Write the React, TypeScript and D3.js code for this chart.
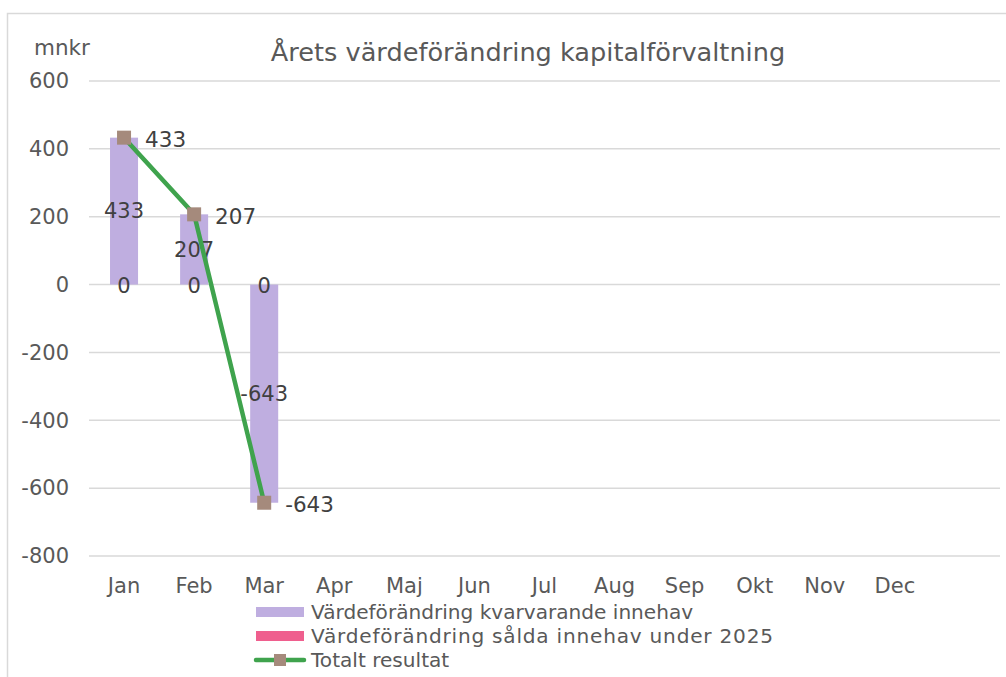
import React, { useEffect, useRef } from 'react';
import * as d3 from 'd3';

const months = ['Jan', 'Feb', 'Mar', 'Apr', 'Maj', 'Jun', 'Jul', 'Aug', 'Sep', 'Okt', 'Nov', 'Dec', ''];
const kvarvarande = [433, 207, -643, null, null, null, null, null, null, null, null, null, null];
const salda = [0, 0, 0, null, null, null, null, null, null, null, null, null, null];
const totalt = [433, 207, -643, null, null, null, null, null, null, null, null, null, null];
const yTicks = [600, 400, 200, 0, -200, -400, -600, -800];
const legendLabels = ['Värdeförändring kvarvarande innehav', 'Värdeförändring sålda innehav under 2025', 'Totalt resultat'];

const W = 1006;
const H = 677;
const FONT = 'DejaVu Sans, Verdana, sans-serif';
const TXT = '#595959';
const PURPLE = '#bfaee0';
const PINK = '#ef5f8e';
const GREEN = '#3fa34d';
const MARKER = '#a58a7c';

function App() {
  const ref = useRef<SVGSVGElement>(null);

  useEffect(() => {
    const svg = d3.select(ref.current);
    svg.selectAll('*').remove();

    // chart border (only top/left visible)
    svg.append('rect')
      .attr('x', 7.5).attr('y', 13.5).attr('width', W + 20).attr('height', H + 20)
      .attr('fill', 'white').attr('stroke', '#d9d9d9').attr('stroke-width', 1.5);

    const x = d3.scaleBand().domain(months.map((m, i) => i + '')).range([89, 1000]);
    const y = d3.scaleLinear().domain([-800, 600]).range([556, 81]);
    const barW = x.bandwidth() * 0.4;
    const cx = (i: number) => (x(i + '') as number) + x.bandwidth() / 2;

    // gridlines
    svg.append('g').selectAll('line').data(yTicks).enter().append('line')
      .attr('x1', 89).attr('x2', 1000)
      .attr('y1', d => y(d)).attr('y2', d => y(d))
      .attr('stroke', '#d9d9d9').attr('stroke-width', 1.5);

    // y tick labels
    svg.append('g').selectAll('text').data(yTicks).enter().append('text')
      .attr('x', 69).attr('y', d => y(d)).attr('dy', '0.35em')
      .attr('text-anchor', 'end').attr('font-family', FONT).attr('font-size', 21).attr('fill', TXT)
      .text(d => d);

    svg.append('text').attr('x', 34).attr('y', 55)
      .attr('font-family', FONT).attr('font-size', 21.5).attr('fill', TXT).text('mnkr');

    // title
    svg.append('text').attr('x', 528).attr('y', 61).attr('text-anchor', 'middle')
      .attr('font-family', FONT).attr('font-size', 25.6).attr('fill', TXT)
      .text('Årets värdeförändring kapitalförvaltning');

    // x labels
    svg.append('g').selectAll('text').data(months).enter().append('text')
      .attr('x', (d, i) => cx(i)).attr('y', 593)
      .attr('text-anchor', 'middle').attr('font-family', FONT).attr('font-size', 21).attr('fill', TXT)
      .text(d => d);

    // stacked bars
    const stacked = kvarvarande.map((v, i) => {
      const a = v ?? 0;
      const b = salda[i];
      return { i, a: v, b, bBase: b === null ? 0 : (b >= 0 ? Math.max(a, 0) : Math.min(a, 0)) };
    });

    svg.append('g').selectAll('rect').data(stacked.filter(d => d.a !== null)).enter().append('rect')
      .attr('x', d => cx(d.i) - barW / 2).attr('width', barW)
      .attr('y', d => y(Math.max(d.a as number, 0)))
      .attr('height', d => Math.abs(y(d.a as number) - y(0)))
      .attr('fill', PURPLE);

    svg.append('g').selectAll('rect').data(stacked.filter(d => d.b !== null)).enter().append('rect')
      .attr('x', d => cx(d.i) - barW / 2).attr('width', barW)
      .attr('y', d => y(Math.max(d.bBase + (d.b as number), d.bBase)))
      .attr('height', d => Math.abs(y(d.bBase + (d.b as number)) - y(d.bBase)))
      .attr('fill', PINK);

    // bar labels
    svg.append('g').selectAll('text').data(stacked.filter(d => d.a !== null)).enter().append('text')
      .attr('x', d => cx(d.i)).attr('y', d => y((d.a as number) / 2)).attr('dy', '0.35em')
      .attr('text-anchor', 'middle').attr('font-family', FONT).attr('font-size', 21).attr('fill', '#404040')
      .text(d => d.a as number);

    svg.append('g').selectAll('text').data(stacked.filter(d => d.b !== null)).enter().append('text')
      .attr('x', d => cx(d.i)).attr('y', d => y(d.b as number) + 1).attr('dy', '0.35em')
      .attr('text-anchor', 'middle').attr('font-family', FONT).attr('font-size', 21).attr('fill', '#404040')
      .text(d => d.b as number);

    // total line
    const pts = totalt.map((v, i) => ({ i, v })).filter(d => d.v !== null) as { i: number; v: number }[];
    const line = d3.line<{ i: number; v: number }>().x(d => cx(d.i)).y(d => y(d.v));
    svg.append('path').datum(pts).attr('d', line)
      .attr('fill', 'none').attr('stroke', GREEN).attr('stroke-width', 4.5).attr('stroke-linejoin', 'round');

    svg.append('g').selectAll('rect').data(pts).enter().append('rect')
      .attr('x', d => cx(d.i) - 7).attr('y', d => y(d.v) - 7).attr('width', 14).attr('height', 14)
      .attr('fill', MARKER);

    svg.append('g').selectAll('text').data(pts).enter().append('text')
      .attr('x', d => cx(d.i) + 21).attr('y', d => y(d.v) + 2).attr('dy', '0.35em')
      .attr('font-family', FONT).attr('font-size', 21.5).attr('fill', '#404040')
      .text(d => d.v);

    // legend
    const lg = svg.append('g');
    const ly = [612, 636, 660];
    lg.append('rect').attr('x', 256).attr('y', ly[0] - 5).attr('width', 48).attr('height', 10).attr('fill', PURPLE);
    lg.append('rect').attr('x', 256).attr('y', ly[1] - 5).attr('width', 48).attr('height', 10).attr('fill', PINK);
    lg.append('line').attr('x1', 256).attr('x2', 304).attr('y1', ly[2]).attr('y2', ly[2])
      .attr('stroke', GREEN).attr('stroke-width', 4.5).attr('stroke-linecap', 'round');
    lg.append('rect').attr('x', 274).attr('y', ly[2] - 6).attr('width', 12).attr('height', 12).attr('fill', MARKER);
    lg.selectAll('text').data(legendLabels).enter().append('text')
      .attr('x', 311).attr('y', (d, i) => ly[i]).attr('dy', '0.35em')
      .attr('font-family', FONT).attr('font-size', 20.1).attr('fill', TXT)
      .attr('textLength', (d, i) => (i === 1 ? 462 : null))
      .attr('lengthAdjust', 'spacing')
      .text(d => d);
  }, []);

  return (
    <svg ref={ref} width={W} height={H} style={{ position: 'absolute', left: 0, top: 0, display: 'block' }} />
  );
}

export default App;
